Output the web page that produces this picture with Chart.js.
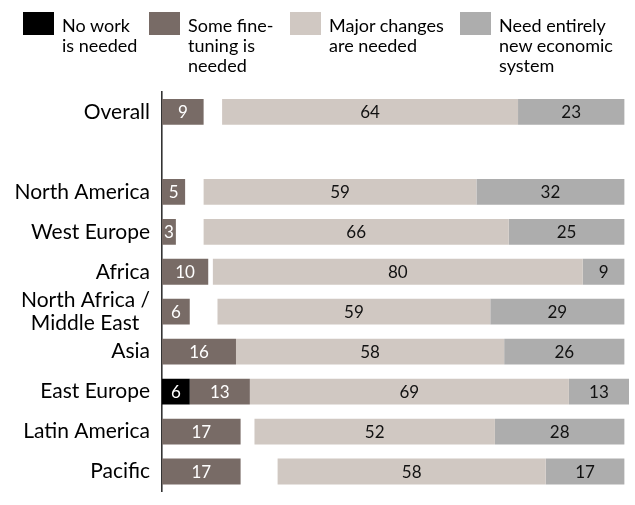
<!DOCTYPE html>
<html>
<head>
<meta charset="utf-8">
<script src="https://cdn.jsdelivr.net/npm/chart.js@4.4.0/dist/chart.umd.min.js"></script>
<style>
  html, body { margin: 0; padding: 0; background: #fff; overflow: hidden; }
  #wrap { position: relative; width: 635px; height: 515px; }
  #legend { position: absolute; left: 0; top: 0; width: 635px; height: 90px; }
  .sw { position: absolute; top: 12px; width: 31px; height: 23px; }
  .lt { position: absolute; top: 15px; font: 18px/20px Lato, sans-serif; color: #000; white-space: pre-line; }
</style>
</head>
<body>
<div id="wrap">
  <canvas id="c"></canvas>
  <div id="legend"></div>
</div>
<script>
(function () {
  "use strict";

  // ---- data --------------------------------------------------------------
  var categories = ["Overall", "", "North America", "West Europe", "Africa",
    ["North Africa /", "Middle East\u00a0\u00a0"], "Asia", "East Europe", "Latin America", "Pacific"];
  var noWork       = [0, null, 0, 0, 0, 0, 0, 6, 0, 0];
  var fineTuning   = [9, null, 5, 3, 10, 6, 16, 13, 17, 17];
  var noAnswer     = [4, null, 4, 6, 1, 6, 0, 0, 3, 8];
  var majorChanges = [64, null, 59, 66, 80, 59, 58, 69, 52, 58];
  var newSystem    = [23, null, 32, 25, 9, 29, 26, 13, 28, 17];

  var seriesNames = ["No work\nis needed", "Some fine-\ntuning is\nneeded", "",
    "Major changes\nare needed", "Need entirely\nnew economic\nsystem"];
  var seriesColors = ["#000000", "#786b66", "rgba(0,0,0,0)", "#d0c8c2", "#adadad"];
  var labelColors  = ["#ffffff", "#ffffff", null, "#111111", "#111111"];
  var LEGEND_X = [23, 149, null, 290, 460];

  var FONT = "Lato, sans-serif";

  // ---- value labels inside segments -------------------------------------
  var segLabels = {
    id: "segLabels",
    afterDatasetsDraw: function (chart) {
      var ctx = chart.ctx;
      ctx.save();
      ctx.font = "17px " + FONT;
      ctx.textAlign = "center";
      ctx.textBaseline = "middle";
      chart.data.datasets.forEach(function (ds, di) {
        if (!labelColors[di]) return;
        var meta = chart.getDatasetMeta(di);
        meta.data.forEach(function (bar, i) {
          var v = ds.data[i];
          if (!v) return;
          ctx.fillStyle = labelColors[di];
          ctx.fillText(String(v), (bar.x + bar.base) / 2, bar.y + 1);
        });
      });
      ctx.restore();
    }
  };

  var all = [noWork, fineTuning, noAnswer, majorChanges, newSystem];
  var datasets = all.map(function (arr, i) {
    return {
      label: seriesNames[i],
      data: arr,
      backgroundColor: seriesColors[i],
      borderWidth: 0,
      barPercentage: 0.646,
      categoryPercentage: 1
    };
  });

  var chart = new Chart(document.getElementById("c"), {
    type: "bar",
    data: { labels: categories, datasets: datasets },
    plugins: [segLabels],
    options: {
      indexAxis: "y",
      responsive: true,
      maintainAspectRatio: false,
      animation: false,
      layout: { padding: { top: 92, bottom: 5, left: 0, right: 6 } },
      plugins: { legend: { display: false }, tooltip: { enabled: false } },
      scales: {
        x: { stacked: true, min: 0, max: 101, display: false },
        y: {
          stacked: true,
          grid: { display: false, drawTicks: false },
          border: { display: true, color: "#333", width: 1.6 },
          ticks: {
            autoSkip: false,
            color: "#000",
            padding: 12,
            font: { family: FONT, size: 21, lineHeight: 1.1 }
          },
          afterFit: function (scale) { scale.width = 162; }
        }
      }
    }
  });

  // ---- html legend -------------------------------------------------------
  var lg = document.getElementById("legend");
  chart.data.datasets.forEach(function (ds, i) {
    if (LEGEND_X[i] == null) return;
    var sw = document.createElement("div");
    sw.className = "sw";
    sw.style.left = LEGEND_X[i] + "px";
    sw.style.background = ds.backgroundColor;
    lg.appendChild(sw);
    var t = document.createElement("div");
    t.className = "lt";
    t.style.left = (LEGEND_X[i] + 39) + "px";
    t.textContent = ds.label;
    lg.appendChild(t);
  });
})();
</script>
</body>
</html>
